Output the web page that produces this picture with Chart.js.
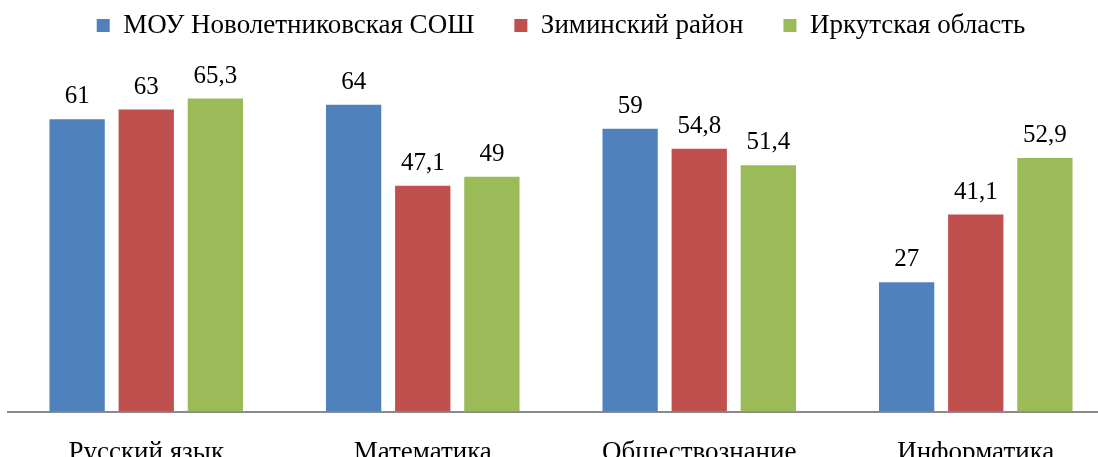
<!DOCTYPE html>
<html>
<head>
<meta charset="utf-8">
<script src="https://cdn.jsdelivr.net/npm/chart.js@4/dist/chart.umd.min.js"></script>
<style>
  html, body { margin: 0; padding: 0; background: #fff; }
  body { width: 1098px; height: 457px; overflow: hidden; }
  #wrap { position: relative; width: 1122px; height: 486px; }
</style>
</head>
<body>
<div id="wrap"><canvas id="chart"></canvas></div>
<script>
/* subjects and results */
const subjects  = ['Русский язык', 'Математика', 'Обществознание', 'Информатика'];
const school    = [61, 64, 59, 27];
const district  = [63, 47.1, 54.8, 41.1];
const region    = [65.3, 49, 51.4, 52.9];
const seriesNames = ['МОУ Новолетниковская СОШ', 'Зиминский район', 'Иркутская область'];
const colours   = ['#4F81BD', '#C0504D', '#9BBB59'];

const FONT = '"Liberation Serif", "Times New Roman", serif';
const fmt = v => String(v).replace('.', ',');

/* value labels above bars */
const valueLabels = {
  id: 'valueLabels',
  afterDatasetsDraw(chart) {
    const c = chart.ctx;
    c.save();
    c.font = `25px ${FONT}`;
    c.fillStyle = '#000';
    c.textAlign = 'center';
    c.textBaseline = 'alphabetic';
    chart.data.datasets.forEach((ds, i) => {
      chart.getDatasetMeta(i).data.forEach((bar, j) => {
        c.fillText(fmt(ds.data[j]), bar.x, bar.y - 16);
      });
    });
    c.restore();
  }
};

/* extra room under the legend */
const legendGap = {
  id: 'legendGap',
  beforeInit(chart) {
    const fit = chart.legend.fit;
    chart.legend.fit = function () {
      fit.bind(chart.legend)();
      this.height += 27;
    };
  }
};

new Chart(document.getElementById('chart'), {
  type: 'bar',
  data: {
    labels: subjects,
    datasets: [school, district, region].map((d, i) => ({
      label: seriesNames[i],
      data: d,
      backgroundColor: colours[i],
      categoryPercentage: 0.75,
      barPercentage: 0.8
    }))
  },
  options: {
    responsive: true,
    maintainAspectRatio: false,
    animation: false,
    layout: { padding: { left: 8, right: 8, top: -28, bottom: 0 } },
    plugins: {
      legend: {
        position: 'top',
        labels: {
          font: { family: FONT, size: 27 },
          color: '#000',
          boxWidth: 13,
          boxHeight: 13,
          padding: 40
        }
      },
      tooltip: { enabled: false }
    },
    scales: {
      x: {
        grid: { display: false },
        border: { color: '#8a8a8a', width: 2 },
        ticks: { font: { family: FONT, size: 27 }, color: '#000', padding: 17 }
      },
      y: {
        display: false,
        min: 0,
        max: 70
      }
    }
  },
  plugins: [valueLabels, legendGap]
});
</script>
</body>
</html>
